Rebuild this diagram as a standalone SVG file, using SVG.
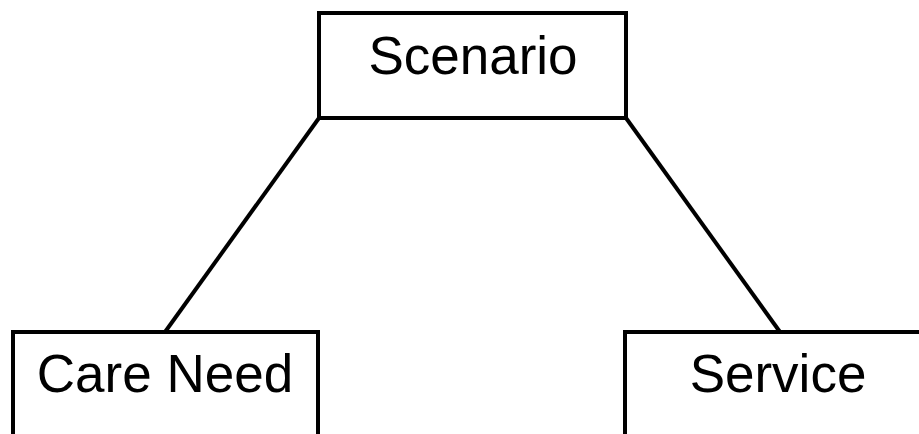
<svg xmlns="http://www.w3.org/2000/svg" width="919" height="434" viewBox="0 0 919 434">
<style>
.box{fill:#fff;stroke:#000;stroke-width:4}
.lbl{font-family:"Liberation Sans",Arial,sans-serif;font-size:53px;fill:#000;text-anchor:middle}
.edge{stroke:#000;stroke-width:4;fill:none}
</style>
<rect width="919" height="434" fill="#fff"/>
<g id="connectors">
<line class="edge" x1="319" y1="118" x2="165" y2="332"/>
<line class="edge" x1="626" y1="118" x2="780" y2="332"/>
</g>
<g id="scenario">
<rect class="box" x="319" y="13" width="307" height="105"/>
<text class="lbl" x="473" y="74">Scenario</text>
</g>
<g id="care-need">
<rect class="box" x="13" y="332" width="305" height="150"/>
<text class="lbl" x="165" y="392">Care Need</text>
</g>
<g id="service">
<rect class="box" x="625" y="332" width="310" height="150"/>
<text class="lbl" x="778" y="392">Service</text>
</g>
</svg>
